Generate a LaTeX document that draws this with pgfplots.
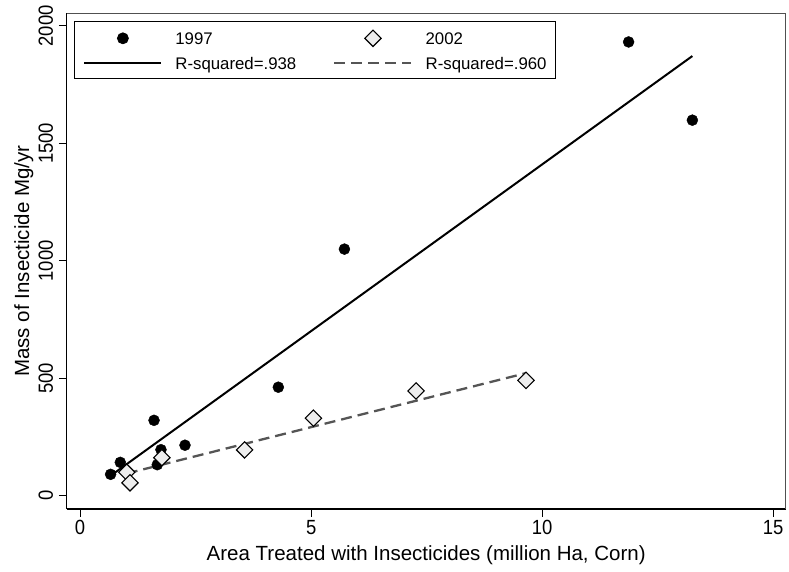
\documentclass[border=0pt]{standalone}
\usepackage{pgfplots}
\pgfplotsset{compat=1.18}
\usepackage{fontspec}
\setmainfont{Liberation Sans}
\newfontfamily\tickfont[FakeStretch=0.9]{Liberation Sans}

\definecolor{fitgray}{HTML}{555555}
\definecolor{diamfill}{HTML}{EEEEEE}
\definecolor{boxgray}{HTML}{505050}

% 1997 points
\pgfplotstableread{
x y
0.66 91
0.87 142
1.60 321
1.75 196
1.67 132
2.27 215
4.29 462
5.72 1050
11.87 1932
13.25 1599
}\yrA
% 2002 points
\pgfplotstableread{
x y
1.01 100
1.08 55
1.77 162
3.56 195
5.05 330
7.27 446
9.65 491
}\yrB

\begin{document}
\begin{tikzpicture}
\useasboundingbox (0,0) rectangle (789pt,571pt);
\begin{axis}[
    at={(66.7pt,62pt)}, anchor=south west,
    width=719pt, height=495.7pt, scale only axis,
    xmin=-0.29, xmax=15.27,
    ymin=-56.6, ymax=2054,
    xtick={0,5,10,15},
    ytick={0,500,1000,1500,2000},
    axis x line*=bottom, axis y line*=left,
    axis line style={-, black, line width=1.3pt},
    tick align=outside, major tick length=7.7pt,
    tick style={black, line width=1pt},
    /pgf/number format/assume math mode=true,
    /pgf/number format/1000 sep={},
    tick label style={font=\tickfont\fontsize{20.5}{24}\selectfont},
    yticklabel style={xshift=-6pt, rotate=90, anchor=base},
    xlabel={Area Treated with Insecticides (million Ha, Corn)},
    ylabel={Mass of Insecticide Mg/yr},
    every axis x label/.style={at={(axis description cs:0.5,-0.1043)}, anchor=base,
        font=\fontsize{20.5}{24}\selectfont},
    every axis y label/.style={at={(axis description cs:-0.0524,0.5)}, rotate=90, anchor=base,
        font=\fontsize{20.5}{24}\selectfont},
    clip=false,
    legend columns=2,
    legend image code/.code={\draw[mark repeat=2,mark phase=2,#1] plot coordinates {(0pt,0pt) (38.5pt,0pt) (77pt,0pt)};},
    legend style={
        at={(0.01015,0.98507)}, anchor=north west,
        draw=black, line width=0.8pt,
        font=\fontsize{16.8}{20}\selectfont,
        inner xsep=9pt, inner ysep=9pt,
        row sep=10pt,
        nodes={inner sep=0pt, text height=13pt, text depth=0pt},
        /tikz/every odd column/.append style={column sep=13pt},
        /tikz/every even column/.append style={column sep=37pt},
    },
    legend cell align=left,
]
% outer frame, top and right
\draw[boxgray, line width=0.9pt] (rel axis cs:0,1) -- (rel axis cs:1,1) -- (rel axis cs:1,0);

\addlegendimage{only marks, mark=*, mark size=5.5pt, mark options={fill=black, draw=black}}
\addlegendentry{1997}
\addlegendimage{only marks, mark=square*, mark size=5.8pt, mark options={rotate=45, fill=diamfill, draw=black, line width=1.1pt}}
\addlegendentry{2002}
\addlegendimage{black, line width=2pt}
\addlegendentry{R-squared=.938}
\addlegendimage{fitgray, line width=2.3pt, dash pattern=on 11pt off 6pt}
\addlegendentry{R-squared=.960}

% fitted lines
\addplot[forget plot, black, line width=2pt] coordinates {(0.66,85) (13.25,1872)};
\addplot[forget plot, fitgray, line width=2.3pt, dash pattern=on 11pt off 6pt] coordinates {(1.01,94.6) (9.65,522)};

% scatter
\addplot[forget plot, only marks, mark=*, mark size=5.5pt, mark options={fill=black, draw=black}] table[x=x, y=y] {\yrA};
\addplot[forget plot, only marks, mark=square*, mark size=5.8pt, mark options={rotate=45, fill=diamfill, draw=black, line width=1.1pt}] table[x=x, y=y] {\yrB};
\end{axis}
\end{tikzpicture}
\end{document}
